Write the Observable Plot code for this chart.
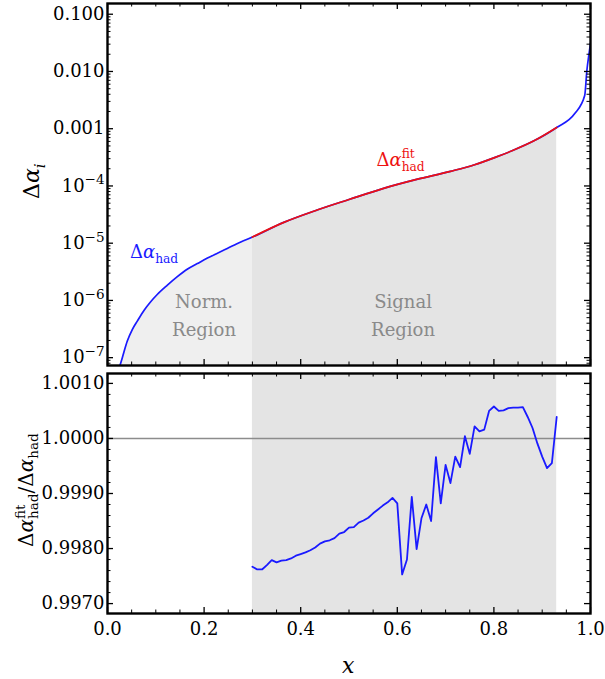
<!DOCTYPE html>
<html><head><meta charset="utf-8">
<script src="https://cdn.jsdelivr.net/npm/d3@7"></script>
<script src="https://cdn.jsdelivr.net/npm/@observablehq/plot@0.6"></script>
<style>
html,body{margin:0;padding:0;background:#fff;}
#chart{position:relative;width:605px;height:679px;font-family:"DejaVu Serif",serif;}
#chart svg{position:absolute;left:0;display:block;overflow:visible;}
</style></head><body><div id="chart"></div>
<script>
// ---- data ----
const hadX = [0.025, 0.0307, 0.041, 0.0513, 0.062, 0.0755, 0.089, 0.103, 0.124, 0.1446, 0.165, 0.186, 0.207, 0.2276, 0.248, 0.276, 0.30, 0.365, 0.434, 0.50, 0.57, 0.64, 0.71, 0.76, 0.80, 0.84, 0.884, 0.93, 0.967, 0.988, 0.9925, 0.997, 1.0];
const hadY = [6.9e-8, 1.0e-7, 1.95e-7, 3.1e-7, 4.4e-7, 6.7e-7, 9.4e-7, 1.27e-6, 1.85e-6, 2.6e-6, 3.5e-6, 4.4e-6, 5.5e-6, 6.7e-6, 8.1e-6, 1.05e-5, 1.28e-5, 2.31e-5, 3.8e-5, 5.8e-5, 9.0e-5, 1.30e-4, 1.80e-4, 2.35e-4, 3.1e-4, 4.2e-4, 6.2e-4, 1.05e-3, 1.82e-3, 3.8e-3, 0.0104, 0.0205, 0.031];
const ratioX = [0.30,0.31,0.32,0.33,0.34,0.35,0.36,0.37,0.38,0.39,0.40,0.41,0.42,0.43,0.44,0.45,0.46,0.47,0.48,0.49,0.50,0.51,0.52,0.53,0.54,0.55,0.56,0.57,0.58,0.59,0.60,0.61,0.62,0.63,0.64,0.65,0.66,0.67,0.68,0.69,0.70,0.71,0.72,0.73,0.74,0.75,0.76,0.77,0.78,0.79,0.80,0.81,0.82,0.83,0.84,0.85,0.86,0.87,0.88,0.89,0.90,0.91,0.92,0.93];
const ratioY = [0.99767,0.99762,0.99762,0.99770,0.99779,0.99775,0.99778,0.99779,0.99782,0.99787,0.99790,0.99793,0.99797,0.99802,0.99809,0.99813,0.99815,0.99819,0.99827,0.99830,0.99838,0.99839,0.99847,0.99851,0.99856,0.99864,0.99871,0.99878,0.99884,0.99892,0.99882,0.99753,0.99780,0.99894,0.99799,0.99855,0.99880,0.99850,0.99966,0.99882,0.99952,0.99919,0.99967,0.99948,1.00004,0.99972,1.00022,1.00013,1.00016,1.00050,1.00058,1.00050,1.00051,1.00055,1.00056,1.00056,1.00057,1.00039,1.00019,0.99991,0.99967,0.99946,0.99955,1.00039];
const normRegion = [0, 0.3];
const signalRegion = [0.3, 0.93];
const xTicks = [0, 0.2, 0.4, 0.6, 0.8, 1.0];
const xTickLabels = ["0.0", "0.2", "0.4", "0.6", "0.8", "1.0"];
const topYTicks = [1e-7, 1e-6, 1e-5, 1e-4, 1e-3, 1e-2, 1e-1];
const topYTickLabels = ["10^-7", "10^-6", "10^-5", "10^-4", "0.001", "0.010", "0.100"];
const botYTicks = [0.997, 0.998, 0.999, 1.000, 1.001];
const botYTickLabels = ["0.9970", "0.9980", "0.9990", "1.0000", "1.0010"];
const topYDomain = [7.3e-8, 0.154];
const botYDomain = [0.99682, 1.00118];
// annotation anchors (data coordinates)
const regionLabelX = [0.201, 0.613];
const regionLabelY = [7.2e-7, 7.2e-7];
const hadLabel = {x: 0.0476, y: 5.4e-6};
const fitLabel = {x: 0.558, y: 2.19e-4};

// ---- layout ----
const W = 605, ML = 107, MR = 15;
const topH = 369, topMT = 3, topMB = 4;
const botH = 310, botMT = 4, botMB = 66;
const FW = W - ML - MR;
const topFH = topH - topMT - topMB;
const botFH = botH - botMT - botMB;
const MAJ = 6, MIN = 3.5;
const blue = "#1a1aff", red = "#ee1111";

const had = hadX.map((x, i) => ({x, y: hadY[i]}));
const normPts = had.filter(d => d.x <= normRegion[1]);
const sigPts = had.filter(d => d.x >= signalRegion[0] && d.x <= signalRegion[1]);
const ratio = ratioX.map((x, i) => ({x, y: ratioY[i]}));

const xMinor = d3.range(0, 21).map(i => i * 0.05).filter(v => Math.abs(v / 0.2 - Math.round(v / 0.2)) > 1e-6);
const topYMinor = [];
for (let e = -8; e <= -1; e++) for (let k = 2; k <= 9; k++) {
  const v = k * Math.pow(10, e);
  if (v > topYDomain[0] && v < topYDomain[1]) topYMinor.push(v);
}
const botYMinor = d3.range(4985, 5006).map(i => i * 0.0002).filter(v => v > botYDomain[0] && v < botYDomain[1] && Math.abs(v * 1000 - Math.round(v * 1000)) > 1e-6);

function edgeTicks(xs, ys, fh) {
  return [
    Plot.ruleX(xs.major, {insetTop: fh - MAJ, stroke: "black", strokeWidth: 1.3}),
    Plot.ruleX(xs.major, {insetBottom: fh - MAJ, stroke: "black", strokeWidth: 1.3}),
    Plot.ruleX(xs.minor, {insetTop: fh - MIN, stroke: "black", strokeWidth: 1}),
    Plot.ruleX(xs.minor, {insetBottom: fh - MIN, stroke: "black", strokeWidth: 1}),
    Plot.ruleY(ys.major, {insetRight: FW - MAJ, stroke: "black", strokeWidth: 1.3}),
    Plot.ruleY(ys.major, {insetLeft: FW - MAJ, stroke: "black", strokeWidth: 1.3}),
    Plot.ruleY(ys.minor, {insetRight: FW - MIN, stroke: "black", strokeWidth: 1}),
    Plot.ruleY(ys.minor, {insetLeft: FW - MIN, stroke: "black", strokeWidth: 1})
  ];
}
const fmtTop = d => topYTickLabels[topYTicks.findIndex(t => Math.abs(Math.log10(t) - Math.log10(d)) < 1e-6)] ?? "";
const fmtBot = d => botYTickLabels[botYTicks.findIndex(t => Math.abs(t - d) < 1e-9)] ?? "";
const fmtX = d => xTickLabels[xTicks.findIndex(t => Math.abs(t - d) < 1e-9)] ?? "";
const style = {fontFamily: "DejaVu Serif", fontSize: "18px", color: "black", background: "transparent", overflow: "visible"};

const topPlot = Plot.plot({
  width: W, height: topH, marginLeft: ML, marginRight: MR, marginTop: topMT, marginBottom: topMB,
  style,
  x: {domain: [0, 1], axis: null},
  y: {type: "log", domain: topYDomain},
  marks: [
    Plot.areaY(normPts, {x: "x", y1: topYDomain[0], y2: "y", fill: "#efefef", curve: "monotone-x", clip: true}),
    Plot.areaY(sigPts, {x: "x", y1: topYDomain[0], y2: "y", fill: "#e4e4e4", curve: "monotone-x", clip: true}),
    Plot.line(had, {x: "x", y: "y", stroke: blue, strokeWidth: 1.7, curve: "monotone-x", clip: true}),
    Plot.line(sigPts, {x: "x", y: "y", stroke: red, strokeWidth: 1.7, curve: "monotone-x", clip: true}),
    ...edgeTicks({major: xTicks, minor: xMinor}, {major: topYTicks, minor: topYMinor}, topFH),
    Plot.frame({stroke: "black", strokeWidth: 2.4}),
    Plot.axisY({anchor: "left", ticks: topYTicks, tickFormat: fmtTop, tickSize: 0, tickPadding: 3, label: null, fontSize: 18})
  ]
});

const botPlot = Plot.plot({
  width: W, height: botH, marginLeft: ML, marginRight: MR, marginTop: botMT, marginBottom: botMB,
  style,
  x: {domain: [0, 1]},
  y: {domain: botYDomain},
  marks: [
    Plot.rect([signalRegion], {x1: d => d[0], x2: d => d[1], fill: "#e4e4e4"}),
    Plot.ruleY([1], {stroke: "#8c8c8c", strokeWidth: 1.6}),
    Plot.line(ratio, {x: "x", y: "y", stroke: blue, strokeWidth: 1.8}),
    ...edgeTicks({major: xTicks, minor: xMinor}, {major: botYTicks, minor: botYMinor}, botFH),
    Plot.frame({stroke: "black", strokeWidth: 2.4}),
    Plot.axisY({anchor: "left", ticks: botYTicks, tickFormat: fmtBot, tickSize: 0, tickPadding: 3, label: null, fontSize: 18}),
    Plot.axisX({anchor: "bottom", ticks: xTicks, tickFormat: fmtX, tickSize: 0, tickPadding: 9, label: null, fontSize: 18})
  ]
});

const chart = document.getElementById("chart");
topPlot.style.top = "0px";
botPlot.style.top = topH + "px";
chart.append(topPlot, botPlot);

// render "10^-n" tick labels with real superscripts
d3.select(topPlot).selectAll("text").each(function () {
  const s = this.textContent;
  const k = s.indexOf("^");
  if (k < 0) return;
  const base = s.slice(0, k), exp = s.slice(k + 1).replace("-", "\u2212");
  const sel = d3.select(this);
  sel.selectAll("*").remove();
  sel.text(null);
  sel.append("tspan").text(base);
  sel.append("tspan").text(exp).style("font-size", "13.5px").attr("dy", "-0.55em");
});

// ---- math-style annotations ----
const xS = d3.scaleLinear([0, 1], [ML, W - MR]);
const yTopS = d3.scaleLog(topYDomain, [topH - topMB, topMT]);

function mathText(svgSel, {x, y, rotate = 0, anchor = "start", fill = "black", size = 18, parts}) {
  const g = svgSel.append("g").attr("transform", `translate(${x},${y}) rotate(${rotate})`);
  const t = g.append("text").attr("fill", fill).attr("text-anchor", "start")
    .style("font-family", "DejaVu Serif").style("font-size", size + "px");
  let cur = 0, pend = 0;
  const ss = size * 0.68, up = -size * 0.42, down = size * 0.27;
  for (const p of parts) {
    if (p.supsub) {
      const a = t.append("tspan").text(p.supsub[0]).style("font-size", ss + "px").attr("dy", up - cur).attr("dx", pend);
      cur = up; pend = 0;
      const wa = a.node().getComputedTextLength();
      const b = t.append("tspan").text(p.supsub[1]).style("font-size", ss + "px").attr("dy", down - cur).attr("dx", -wa);
      cur = down;
      const wb = b.node().getComputedTextLength();
      pend = Math.max(0, wa - wb);
    } else {
      const off = p.sub ? down : p.sup ? up : 0;
      const fs = (p.sub || p.sup) ? ss : size;
      t.append("tspan").text(p.t).style("font-size", fs + "px").style("font-style", p.it ? "italic" : "normal")
        .attr("dy", off - cur).attr("dx", pend);
      cur = off; pend = 0;
    }
  }
  if (anchor === "middle") {
    const w = t.node().getBBox().width;
    t.attr("x", -w / 2);
  }
  return g;
}

const topSel = d3.select(topPlot), botSel = d3.select(botPlot);

// region labels
["Norm.|Region", "Signal|Region"].forEach((s, i) => {
  const [l1, l2] = s.split("|");
  const t = topSel.append("text").attr("fill", "#8a8a8a").attr("text-anchor", "middle")
    .style("font-family", "DejaVu Serif").style("font-size", "18px");
  const cx = xS(regionLabelX[i]), cy = yTopS(regionLabelY[i]);
  t.append("tspan").attr("x", cx).attr("y", cy).text(l1);
  t.append("tspan").attr("x", cx).attr("y", cy + 28).text(l2);
});

// curve labels
mathText(topSel, {x: xS(hadLabel.x), y: yTopS(hadLabel.y), fill: blue, size: 18,
  parts: [{t: "\u0394"}, {t: "\u03B1", it: true}, {t: "had", sub: true}]});
mathText(topSel, {x: xS(fitLabel.x), y: yTopS(fitLabel.y), fill: red, size: 18,
  parts: [{t: "\u0394"}, {t: "\u03B1", it: true}, {supsub: ["fit", "had"]}]});

// axis titles
mathText(topSel, {x: 39, y: 181, rotate: -90, anchor: "middle", size: 22,
  parts: [{t: "\u0394"}, {t: "\u03B1", it: true}, {t: "i", sub: true, it: true}]});
mathText(botSel, {x: 33, y: 490 - topH, rotate: -90, anchor: "middle", size: 20,
  parts: [{t: "\u0394"}, {t: "\u03B1", it: true}, {supsub: ["fit", "had"]}, {t: "/"}, {t: "\u0394"}, {t: "\u03B1", it: true}, {t: "had", sub: true}]});
mathText(botSel, {x: xS(0.5), y: 673 - topH, anchor: "middle", size: 22,
  parts: [{t: "x", it: true}]});
</script>
</body></html>
